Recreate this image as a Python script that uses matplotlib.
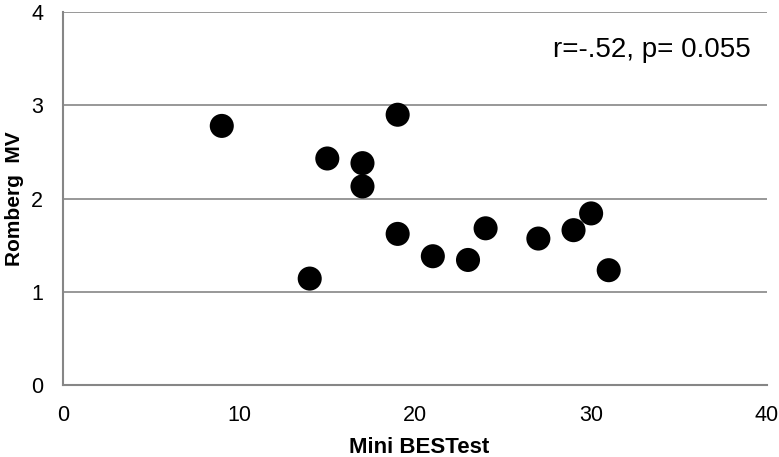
import matplotlib
matplotlib.use("Agg")
import matplotlib.pyplot as plt

# Mini BESTest score vs Romberg MV
mini_bestest = [9, 14, 15, 17, 17, 19, 19, 21, 23, 24, 27, 29, 30, 31]
romberg_mv = [2.78, 1.14, 2.43, 2.38, 2.13, 2.90, 1.62, 1.38, 1.34, 1.68, 1.57, 1.66, 1.84, 1.23]
stat_text = "r=-.52, p= 0.055"

plt.rcParams['font.family'] = ['Liberation Sans', 'DejaVu Sans']

fig = plt.figure(figsize=(7.79, 4.57), dpi=100)
ax = fig.add_axes([0.0815, 0.1582, 0.9031, 0.8148])

grid_color = '#868686'
ax.set_xlim(0, 40)
ax.set_ylim(0, 4)
ax.set_xticks([0, 10, 20, 30, 40])
ax.set_yticks([0, 1, 2, 3, 4])
ax.yaxis.grid(True, color=grid_color, linewidth=1.2)
ax.set_axisbelow(True)

for side in ['top', 'right']:
    ax.spines[side].set_visible(False)
for side in ['left', 'bottom']:
    ax.spines[side].set_color(grid_color)
    ax.spines[side].set_linewidth(1.5)

ax.tick_params(length=0, labelsize=15.5, pad=14.5)

ax.scatter(mini_bestest, romberg_mv, s=300, c='black', edgecolors='none', zorder=3)

ax.set_xlabel("Mini BESTest", fontsize=16, fontweight='bold')
ax.set_ylabel("Romberg  MV", fontsize=15, fontweight='bold')
ax.xaxis.set_label_coords(0.506, -0.1396)
ax.yaxis.set_label_coords(-0.0566, 0.5)

ax.text(0.696, 0.881, stat_text, transform=ax.transAxes, fontsize=20, va='baseline', ha='left')

fig.savefig("out.png", dpi=100)
